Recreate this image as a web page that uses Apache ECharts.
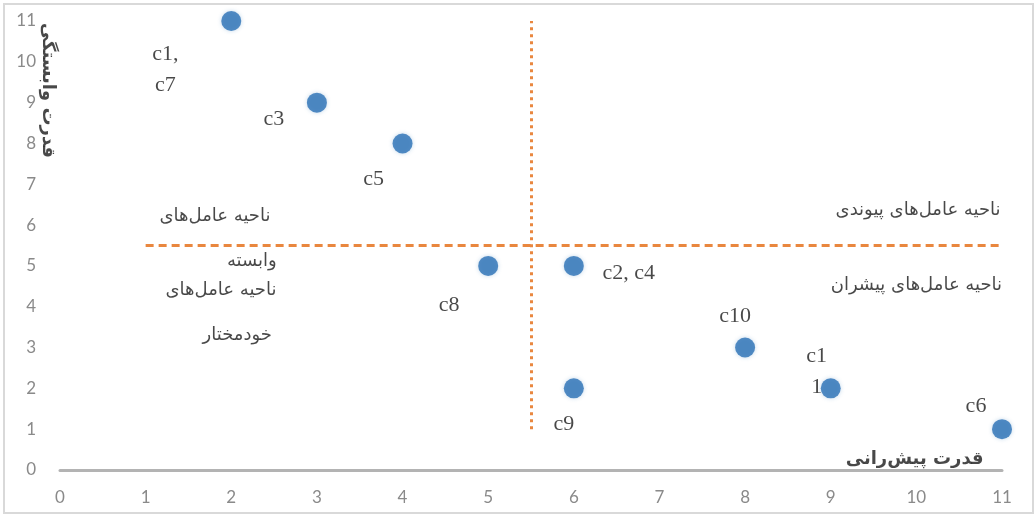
<!DOCTYPE html>
<html>
<head>
<meta charset="utf-8">
<script src="https://cdn.jsdelivr.net/npm/echarts@6/dist/echarts.min.js"></script>
<style>
  html, body { margin: 0; padding: 0; background: #ffffff; }
  #chart { width: 1036px; height: 516px; }
</style>
</head>
<body>
<div id="chart"></div>
<script>
// ---- data ----
const categories = ['c1,\nc7', 'c3', 'c5', 'c8', 'c2, c4', 'c9', 'c10', 'c1\n1', 'c6'];
const xValues = [2, 3, 4, 5, 6, 6, 8, 9, 11];
const yValues = [11, 9, 8, 5, 5, 2, 3, 2, 1];
const xTicks = [0, 1, 2, 3, 4, 5, 6, 7, 8, 9, 10, 11];
const yTicks = [0, 1, 2, 3, 4, 5, 6, 7, 8, 9, 10, 11];
const regionTexts = ['ناحیه عامل‌های', 'وابسته', 'ناحیه عامل‌های', 'خودمختار', 'ناحیه عامل‌های پیوندی', 'ناحیه عامل‌های پیشران'];
const regionX = [1.81, 2.24, 1.88, 2.07, 10.02, 10.0];
const regionY = [6.22, 5.10, 4.41, 3.31, 6.37, 4.53];
const xAxisTitle = 'قدرت پیش‌رانی';
const xAxisTitlePos = [9.98, 0.25];
const yAxisTitle = 'قدرت وابستگی';
const yAxisTitlePos = [-0.14, 9.3];
const vLineX = 5.5, vLineFrom = 1, vLineTo = 11;
const hLineY = 5.5, hLineFrom = 1, hLineTo = 11;

// ---- label placement (style, pixels) ----
const labelOffsets = [[-66, 49], [-43, 17], [-29, 36], [-39, 39], [55, 7], [-10, 36], [-10, -31], [-14, -17], [-26, -23]];

const chart = echarts.init(document.getElementById('chart'));
const orange = '#E9873F';
const tickFont = 'Lato, "Liberation Sans", sans-serif';
const serifFont = '"Liberation Serif", "DejaVu Serif", serif';
const arFont = '"DejaVu Sans", sans-serif';

const pointData = xValues.map((x, i) => ({
  value: [x, yValues[i]],
  label: {
    show: true,
    position: 'inside',
    formatter: categories[i],
    offset: labelOffsets[i],
    color: '#1a1a1a',
    fontFamily: serifFont,
    fontSize: 22,
    lineHeight: 31,
    align: 'center',
    verticalAlign: 'middle'
  }
}));

const textData = regionTexts.map((t, i) => ({
  value: [regionX[i], regionY[i]],
  label: { formatter: t }
}));
textData.push({ value: xAxisTitlePos, label: { formatter: xAxisTitle, fontWeight: 'bold', fontSize: 18 } });
textData.push({ value: yAxisTitlePos, label: { formatter: yAxisTitle, fontWeight: 'bold', fontSize: 18, rotate: -90 } });

chart.setOption({
  animation: false,
  backgroundColor: '#ffffff',
  grid: { left: 60, right: 34, top: 21, bottom: 46, containLabel: false },
  xAxis: {
    type: 'value', min: xTicks[0], max: xTicks[xTicks.length - 1], interval: 1,
    axisLine: { show: true, onZero: true, lineStyle: { color: '#b3b3b3', width: 3 } },
    axisTick: { show: false },
    splitLine: { show: false },
    axisLabel: { color: '#8a8a8a', fontFamily: tickFont, fontSize: 17, margin: 19,
      formatter: v => xTicks.includes(v) ? String(v) : '' }
  },
  yAxis: {
    type: 'value', min: yTicks[0], max: yTicks[yTicks.length - 1], interval: 1,
    axisLine: { show: false },
    axisTick: { show: false },
    splitLine: { show: false },
    axisLabel: { color: '#8a8a8a', fontFamily: tickFont, fontSize: 17, margin: 24,
      formatter: v => yTicks.includes(v) ? String(v) : '' }
  },
  graphic: [{
    type: 'rect', shape: { x: 4, y: 4, width: 1029, height: 509 },
    style: { fill: 'none', stroke: '#d9d9d9', lineWidth: 2 }, silent: true, z: -1
  }],
  series: [
    {
      type: 'scatter',
      data: pointData,
      symbol: 'circle',
      symbolSize: 20,
      itemStyle: { color: '#2B70B5', shadowBlur: 4, shadowColor: 'rgba(46,117,182,0.35)' },
      clip: false,
      z: 3,
      markLine: {
        silent: true,
        symbol: ['none', 'none'],
        label: { show: false },
        data: [
          [{ coord: [vLineX, vLineFrom], lineStyle: { type: [3, 4], color: orange, width: 3 } },
           { coord: [vLineX, vLineTo] }],
          [{ coord: [hLineFrom, hLineY], lineStyle: { type: [8, 5], color: orange, width: 3 } },
           { coord: [hLineTo, hLineY] }]
        ]
      }
    },
    {
      type: 'scatter',
      data: textData,
      symbolSize: 0,
      clip: false,
      silent: true,
      z: 4,
      label: {
        show: true,
        position: 'inside',
        color: '#1a1a1a',
        fontFamily: arFont,
        fontSize: 18,
        align: 'center',
        verticalAlign: 'middle'
      }
    }
  ]
});
</script>
</body>
</html>
